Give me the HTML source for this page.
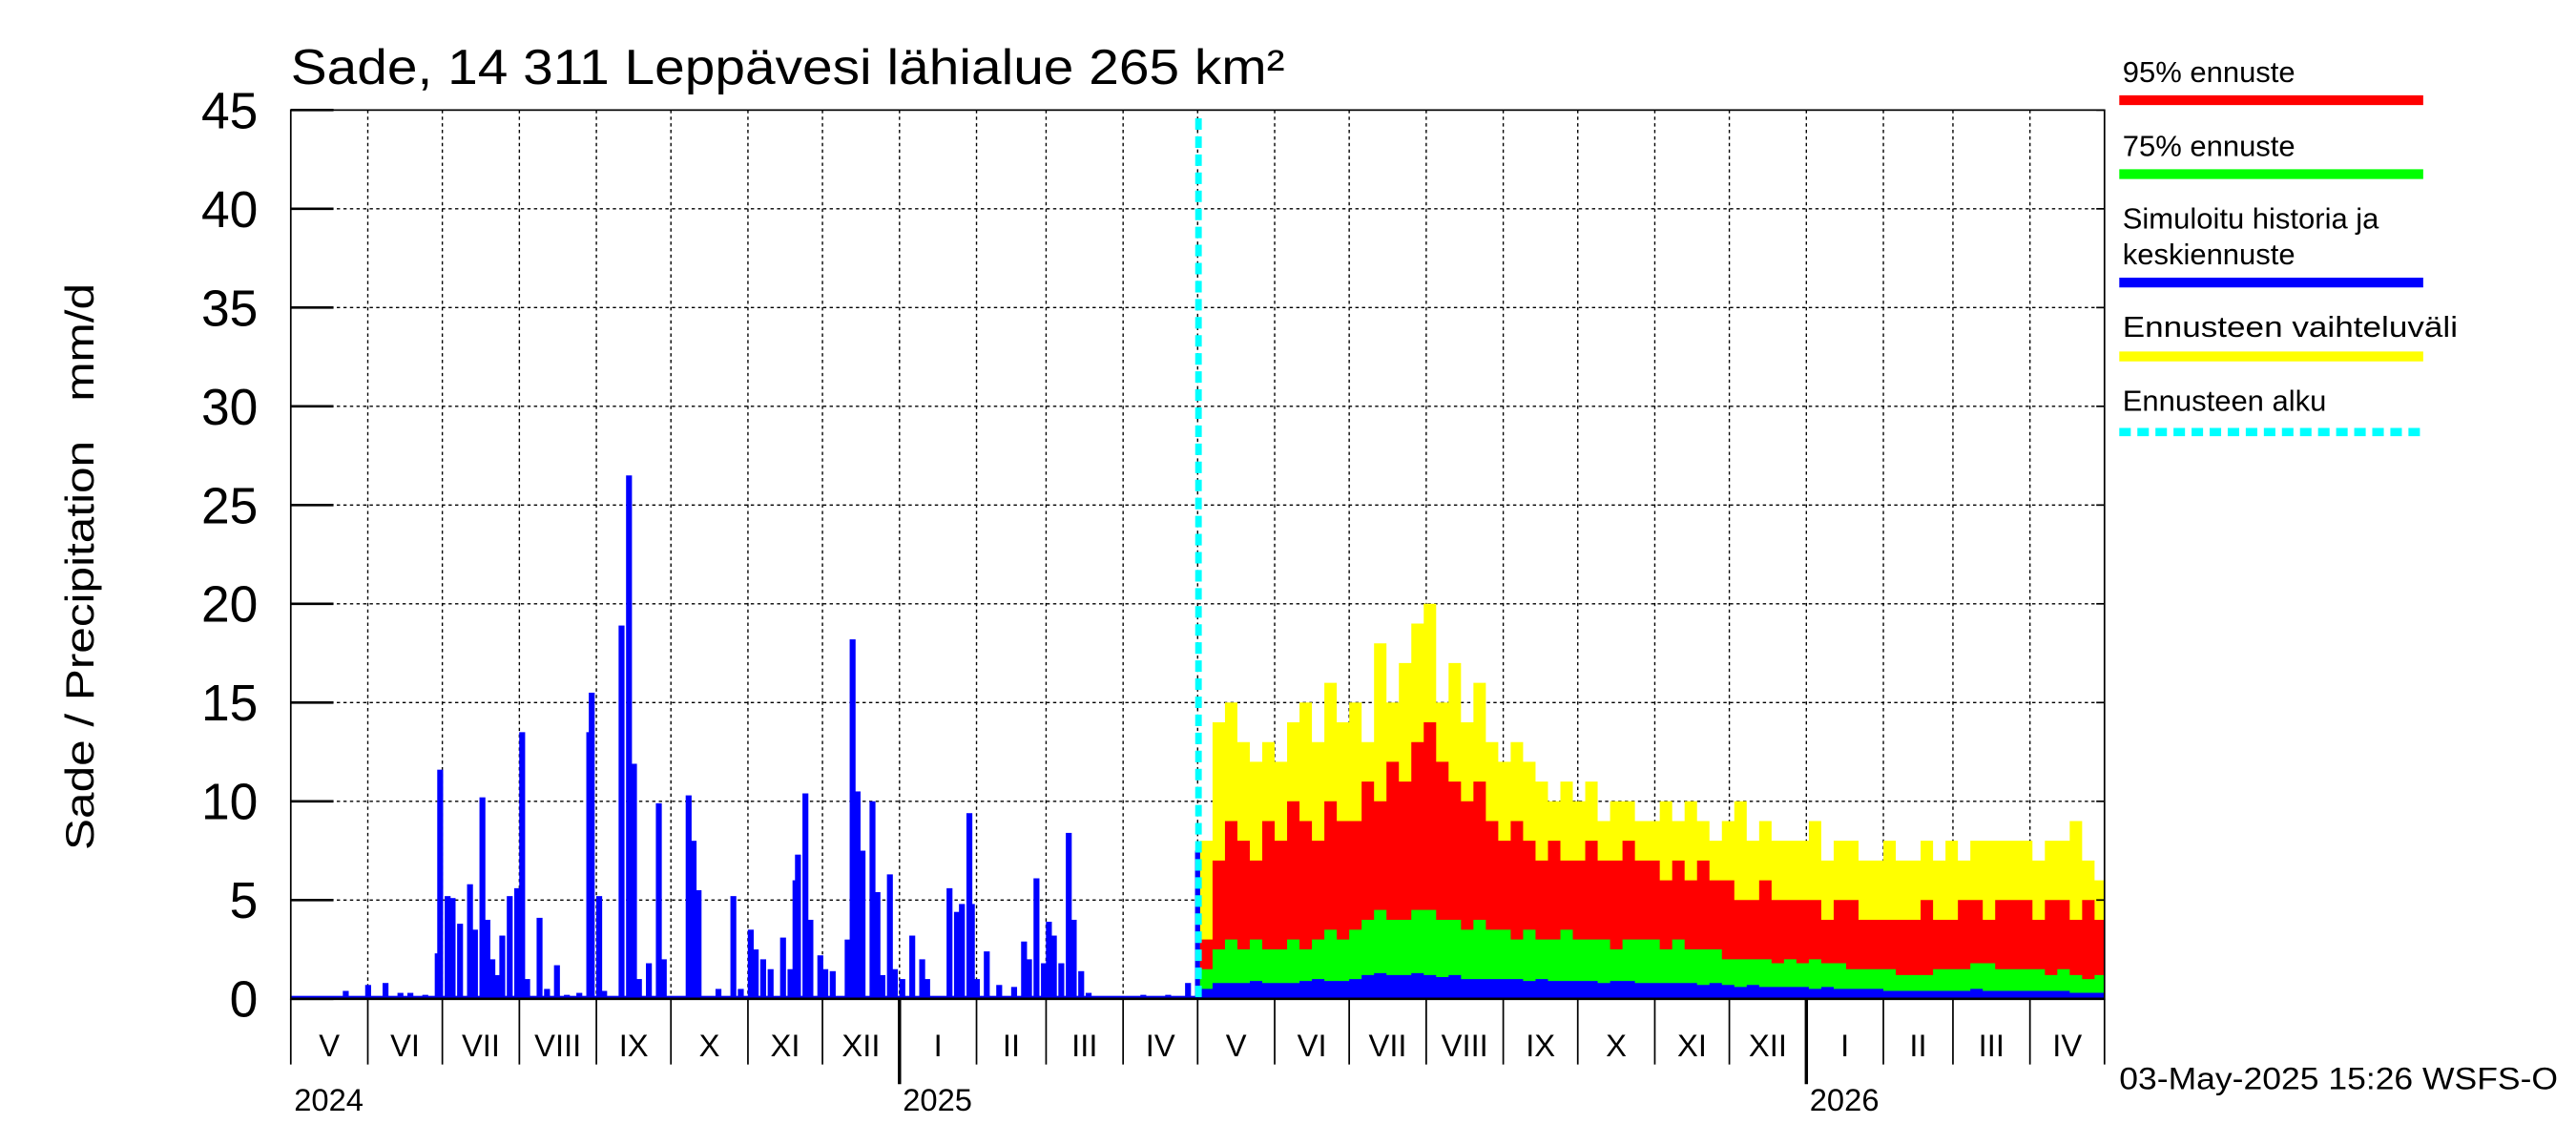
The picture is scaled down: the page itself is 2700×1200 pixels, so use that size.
<!DOCTYPE html>
<html><head><meta charset="utf-8"><style>
html,body{margin:0;padding:0;background:#fff;overflow:hidden}
svg{display:block}
text{font-family:"Liberation Sans",sans-serif;fill:#000}
</style></head><body>
<svg id="chart" width="2700" height="1200" viewBox="0 0 1568 697" preserveAspectRatio="none" xmlns="http://www.w3.org/2000/svg">
<rect x="0" y="0" width="1568" height="697" fill="#fff"/>
<g id="grid"></g>
<g id="marks"></g>
<g id="axes"></g>
<text x="177" y="51" font-size="30" textLength="605" lengthAdjust="spacingAndGlyphs">Sade, 14 311 Leppävesi lähialue 265 km²</text>
<text transform="translate(57,345) rotate(-90)" text-anchor="middle" font-size="24" textLength="345" lengthAdjust="spacingAndGlyphs" xml:space="preserve">Sade / Precipitation   mm/d</text>
<g>
<text x="1292" y="50" font-size="18">95% ennuste</text>
<line x1="1290" y1="61" x2="1475" y2="61" stroke="#f00" stroke-width="6"/>
<text x="1292" y="95" font-size="18">75% ennuste</text>
<line x1="1290" y1="106" x2="1475" y2="106" stroke="#0f0" stroke-width="6"/>
<text x="1292" y="139" font-size="18">Simuloitu historia ja</text>
<text x="1292" y="161" font-size="18">keskiennuste</text>
<line x1="1290" y1="172" x2="1475" y2="172" stroke="#00f" stroke-width="6"/>
<text x="1292" y="205" font-size="18" textLength="204" lengthAdjust="spacingAndGlyphs">Ennusteen vaihteluväli</text>
<line x1="1290" y1="217" x2="1475" y2="217" stroke="#ff0" stroke-width="6"/>
<text x="1292" y="250" font-size="18">Ennusteen alku</text>
<line x1="1290" y1="263" x2="1475" y2="263" stroke="#0ff" stroke-width="5" stroke-dasharray="7,4"/>
</g>
<text x="1290" y="663" font-size="19" textLength="267" lengthAdjust="spacingAndGlyphs">03-May-2025 15:26 WSFS-O</text>
</svg>
<script>
const histDays=[22,31,38,44,48,54,59,60,63,65,68,72,74,77,79,81,83,85,88,91,93,95,100,103,107,111,116,120,121,124,126,133,136,138,140,144,148,150,160,162,164,172,178,181,185,187,190,193,198,201,203,204,207,209,213,215,218,224,226,228,230,234,236,238,241,243,246,250,254,256,265,268,270,273,274,276,280,285,291,295,297,300,303,305,307,310,313,315,318,321,343,353,361,365];
const histVals=[0.4,0.7,0.8,0.3,0.3,0.2,2.3,11.6,5.2,5.1,3.8,5.8,3.5,10.2,4,2,1.2,3.2,5.2,5.6,13.5,1,4.1,0.5,1.7,0.2,0.3,13.5,15.5,5.2,0.4,18.9,26.5,11.9,1,1.8,9.9,2,10.3,8,5.5,0.5,5.2,0.5,3.5,2.5,2,1.5,3.1,1.5,6,7.3,10.4,4,2.2,1.5,1.4,3,18.2,10.5,7.5,10,5.4,1.2,6.3,1.5,1,3.2,2,1,5.6,4.4,4.8,9.4,4.8,1,2.4,0.7,0.6,2.9,2,6.1,1.8,3.9,3.2,1.8,8.4,4,1.4,0.3,0.2,0.2,0.8,7.5];
const fcYellow=[8,14,15,13,12,13,12,14,15,13,16,14,15,13,18,15,17,19,20,15,17,14,16,13,12,13,12,11,10,11,10,11,9,10,10,9,9,10,9,10,9,8,9,10,8,9,8,8,8,9,7,8,8,7,7,8,7,7,8,7,8,7,8,8,8,8,8,7,8,8,9,7,6];
const fcRed=[3,7,9,8,7,9,8,10,9,8,10,9,9,11,10,12,11,13,14,12,11,10,11,9,8,9,8,7,8,7,7,8,7,7,8,7,7,6,7,6,7,6,6,5,5,6,5,5,5,5,4,5,5,4,4,4,4,4,5,4,4,5,5,4,5,5,5,4,5,5,4,5,4];
const fcGreen=[1.5,2.5,3,2.5,3,2.5,2.5,3,2.5,3,3.5,3,3.5,4,4.5,4,4,4.5,4.5,4,4,3.5,4,3.5,3.5,3,3.5,3,3,3.5,3,3,3,2.5,3,3,3,2.5,3,2.5,2.5,2.5,2,2,2,2,1.8,2,1.8,2,1.8,1.8,1.5,1.5,1.5,1.5,1.2,1.2,1.2,1.5,1.5,1.5,1.8,1.8,1.5,1.5,1.5,1.5,1.2,1.5,1.2,1,1.2];
const fcBlue=[0.5,0.8,0.8,0.8,0.9,0.8,0.8,0.8,0.9,1,0.9,0.9,1,1.2,1.3,1.2,1.2,1.3,1.2,1.1,1.2,1,1,1,1,1,0.9,1,0.9,0.9,0.9,0.9,0.8,0.9,0.9,0.8,0.8,0.8,0.8,0.8,0.7,0.8,0.7,0.6,0.7,0.6,0.6,0.6,0.6,0.5,0.6,0.5,0.5,0.5,0.5,0.4,0.4,0.4,0.4,0.4,0.4,0.4,0.5,0.4,0.4,0.4,0.4,0.4,0.4,0.4,0.3,0.3,0.3];
const yTicks=[0,5,10,15,20,25,30,35,40,45];
const monthLabels=["V","VI","VII","VIII","IX","X","XI","XII","I","II","III","IV"];
const fcStartDay=366, binDays=5;

const NS="http://www.w3.org/2000/svg";
const X0=177,X1=1281,Y0=608,PXD=(X1-X0)/730;
const xs=d=>X0+d*PXD;
const ys=v=>Y0-v*(Y0-67)/45;
function mk(tag,attrs,parent){const e=document.createElementNS(NS,tag);for(const k in attrs)e.setAttribute(k,attrs[k]);parent.appendChild(e);return e;}
const grid=document.getElementById('grid'),marks=document.getElementById('marks'),axes=document.getElementById('axes');

const start=Date.UTC(2024,4,1);
const bounds=[];
for(let i=0;i<=24;i++){const t=Date.UTC(2024,4+i,1);bounds.push({d:(t-start)/86400000,m:new Date(t).getUTCMonth(),y:new Date(t).getUTCFullYear()});}
yTicks.forEach(v=>{
  const l=mk('line',{x1:X0,x2:X1,y1:ys(v),y2:ys(v),stroke:'#000','stroke-width':0.8,'stroke-dasharray':'2,2'},grid);
  
  
});
bounds.forEach((b,i)=>{
  if(i>0&&i<24){
    const l=mk('line',{x1:xs(b.d),x2:xs(b.d),y1:67,y2:Y0,stroke:'#000','stroke-width':0.8,'stroke-dasharray':'2,2'},grid);
    
    
  }
});
mk('rect',{x:X0,y:ys(0.15),width:xs(365)-X0,height:Y0-ys(0.15),fill:'#00f'},marks);
histDays.forEach((d,i)=>{
  const r=mk('rect',{x:xs(d)-1.6,y:ys(histVals[i]),width:3.6,height:Y0-ys(histVals[i]),fill:'#00f'},marks);
  
  
});
[[fcYellow,'#ff0','range'],[fcRed,'#f00','p95'],[fcGreen,'#0f0','p75'],[fcBlue,'#00f','median']].forEach(([arr,col,nm])=>{
  let p='M'+xs(fcStartDay)+','+Y0;
  arr.forEach((v,i)=>{const a=xs(fcStartDay+i*binDays),b=xs(Math.min(730,fcStartDay+(i+1)*binDays));p+=' L'+a+','+ys(v)+' L'+b+','+ys(v);});
  p+=' L'+X1+','+Y0+' Z';
  const e=mk('path',{d:p,fill:col},marks);
  
  
});
const fl=mk('line',{x1:xs(fcStartDay)-1,x2:xs(fcStartDay)-1,y1:72,y2:Y0,stroke:'#0ff','stroke-width':4,'stroke-dasharray':'7,4'},marks);


mk('rect',{x:X0,y:67,width:X1-X0,height:Y0-67,fill:'none',stroke:'#000','stroke-width':1},axes);
mk('line',{x1:X0,x2:X1,y1:Y0,y2:Y0,stroke:'#000','stroke-width':1.5},axes);
yTicks.forEach(v=>{
  mk('line',{x1:X0,x2:X0+26,y1:ys(v),y2:ys(v),stroke:'#000','stroke-width':1.5},axes);
  mk('line',{x1:X1-5,x2:X1,y1:ys(v),y2:ys(v),stroke:'#000','stroke-width':1},axes);
  const t=mk('text',{x:157,y:ys(v)+11,'text-anchor':'end','font-size':31},axes);
  t.textContent=v;
  
  
});
bounds.forEach((b,i)=>{
  const yr=b.m===0;
  mk('line',{x1:xs(b.d),x2:xs(b.d),y1:Y0,y2:yr?660:648,stroke:'#000','stroke-width':yr?2:1},axes);
  if(i<24){
    const t=mk('text',{x:(xs(b.d)+xs(bounds[i+1].d))/2,y:643,'text-anchor':'middle','font-size':19},axes);
    t.textContent=monthLabels[i%12];
    
    
  }
  if(i===0||yr){
    const t=mk('text',{x:xs(b.d)+2,y:676,'font-size':19},axes);
    t.textContent=b.y;
    
    
  }
});
</script>
</body></html>
